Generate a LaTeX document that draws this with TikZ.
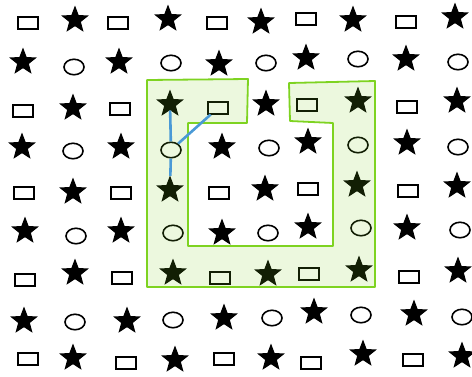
\documentclass[tikz,border=0pt]{standalone}
\usetikzlibrary{shapes.geometric}
\definecolor{regiongreen}{HTML}{7ED321}
\definecolor{linkblue}{HTML}{4A9AD6}

\begin{document}
\begin{tikzpicture}[x=1pt,y=-1pt,
  rectbox/.style={draw,line width=1.6pt,minimum width=20.5pt,minimum height=11.5pt,inner sep=0pt},
  starbox/.style={star,star points=5,star point ratio=2.35,fill=black,minimum size=29pt,inner sep=0pt},
  ringbox/.style={ellipse,draw,line width=1.6pt,minimum width=20pt,minimum height=15.5pt,inner sep=0pt},
  link/.style={draw=linkblue,line width=2.6pt}]
\useasboundingbox (0,0) rectangle (472,376);
\node[rectbox] (r1c1) at (28,23){}; \node[starbox] (r1c2) at (75,20){}; \node[rectbox] (r1c3) at (118,23){}; \node[starbox] (r1c4) at (168,19){}; \node[rectbox] (r1c5) at (217,23){};
\node[starbox] (r1c6) at (261,22){}; \node[rectbox] (r1c7) at (306,19){}; \node[starbox] (r1c8) at (353,20){}; \node[rectbox] (r1c9) at (406,22){}; \node[starbox] (r1c10) at (455,17){};
\node[starbox] (r2c1) at (23,62){}; \node[ringbox] (r2c2) at (74,67){}; \node[starbox] (r2c3) at (119,62){}; \node[ringbox] (r2c4) at (171,63){}; \node[starbox] (r2c5) at (219,64){};
\node[ringbox] (r2c6) at (266,63){}; \node[starbox] (r2c7) at (306,58){}; \node[ringbox] (r2c8) at (358,59){}; \node[starbox] (r2c9) at (406,59){}; \node[ringbox] (r2c10) at (458,62){};
\node[rectbox] (r3c1) at (23,111){}; \node[starbox] (r3c2) at (73,108){}; \node[rectbox] (r3c3) at (120,109){}; \node[starbox] (r3c4) at (170,104){}; \node[rectbox] (r3c5) at (218,108){};
\node[starbox] (r3c6) at (266,104){}; \node[rectbox] (r3c7) at (307,105){}; \node[starbox] (r3c8) at (358,101){}; \node[rectbox] (r3c9) at (407,107){}; \node[starbox] (r3c10) at (457,101){};
\node[starbox] (r4c1) at (22,147){}; \node[ringbox] (r4c2) at (73,151){}; \node[starbox] (r4c3) at (121,147){}; \node[ringbox] (r4c4) at (171,150){}; \node[starbox] (r4c5) at (222,147){};
\node[ringbox] (r4c6) at (269,148){}; \node[starbox] (r4c7) at (308,142){}; \node[ringbox] (r4c8) at (358,145){}; \node[starbox] (r4c9) at (407,143){}; \node[ringbox] (r4c10) at (458,147){};
\node[rectbox] (r5c1) at (24,193){}; \node[starbox] (r5c2) at (73,192){}; \node[rectbox] (r5c3) at (121,193){}; \node[starbox] (r5c4) at (170,190){}; \node[rectbox] (r5c5) at (219,193){};
\node[starbox] (r5c6) at (265,189){}; \node[rectbox] (r5c7) at (308,189){}; \node[starbox] (r5c8) at (357,185){}; \node[rectbox] (r5c9) at (408,191){}; \node[starbox] (r5c10) at (457,186){};
\node[starbox] (r6c1) at (25,231){}; \node[ringbox] (r6c2) at (76,236){}; \node[starbox] (r6c3) at (121,231){}; \node[ringbox] (r6c4) at (173,233){}; \node[starbox] (r6c5) at (222,233){};
\node[ringbox] (r6c6) at (268,233){}; \node[starbox] (r6c7) at (308,227){}; \node[ringbox] (r6c8) at (361,228){}; \node[starbox] (r6c9) at (407,228){}; \node[ringbox] (r6c10) at (460,230){};
\node[rectbox] (r7c1) at (25,280){}; \node[starbox] (r7c2) at (75,273){}; \node[rectbox] (r7c3) at (122,278){}; \node[starbox] (r7c4) at (173,273){}; \node[rectbox] (r7c5) at (220,278){};
\node[starbox] (r7c6) at (268,274){}; \node[rectbox] (r7c7) at (309,274){}; \node[starbox] (r7c8) at (359,270){}; \node[rectbox] (r7c9) at (409,277){}; \node[starbox] (r7c10) at (458,271){};
\node[starbox] (r8c1) at (24,321){}; \node[ringbox] (r8c2) at (75,322){}; \node[starbox] (r8c3) at (127,321){}; \node[ringbox] (r8c4) at (173,320){}; \node[starbox] (r8c5) at (224,318){};
\node[ringbox] (r8c6) at (272,318){}; \node[starbox] (r8c7) at (314,312){}; \node[ringbox] (r8c8) at (361,315){}; \node[starbox] (r8c9) at (414,314){}; \node[ringbox] (r8c10) at (462,317){};
\node[rectbox] (r9c1) at (28,359){}; \node[starbox] (r9c2) at (73,358){}; \node[rectbox] (r9c3) at (126,363){}; \node[starbox] (r9c4) at (175,360){}; \node[rectbox] (r9c5) at (224,359){};
\node[starbox] (r9c6) at (271,358){}; \node[rectbox] (r9c7) at (311,363){}; \node[starbox] (r9c8) at (363,354){}; \node[rectbox] (r9c9) at (413,360){}; \node[starbox] (r9c10) at (462,356){};
\draw[regiongreen,line width=1.8pt,fill=regiongreen,fill opacity=0.15,line join=round]
  (147,80)--(248,79)--(247,123)--(188,123)--(188,246)--(333,246)--(333,123)--(290,121)--(289,83)--(375,81)--(375,287)--(147,287)--cycle;
\draw[link] (r3c4)--(r4c4); \draw[link] (r4c4)--(r5c4); \draw[link] (r4c4)--(r3c5);
\end{tikzpicture}
\end{document}
